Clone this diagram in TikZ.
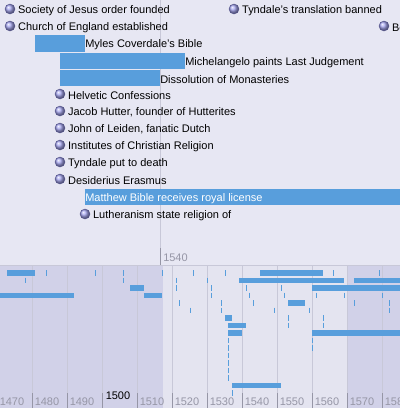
\documentclass[tikz,border=0pt]{standalone}
\usepackage{fontspec}
\setmainfont{Liberation Sans}
\usetikzlibrary{positioning}

\definecolor{bandtop}{RGB}{231,231,243}
\definecolor{bandlow}{RGB}{228,228,240}
\definecolor{bandhi}{RGB}{209,209,232}
\definecolor{gridgray}{RGB}{200,200,216}
\definecolor{labelgray}{RGB}{150,150,166}
\definecolor{barblue}{RGB}{88,158,220}
\definecolor{dotblue}{RGB}{165,165,238}
\definecolor{dotedge}{RGB}{80,80,140}

\newcommand{\evfont}{\fontsize{8.25pt}{9pt}\selectfont}

\tikzset{
	evdot/.style={circle, inner sep=0pt, minimum size=7.5pt, ball color=dotblue, draw=dotedge, line width=0.3pt},
	evlabel/.style={anchor=west, inner sep=0pt, font=\evfont, yshift=-1pt},
	evbar/.style={fill=barblue},
	ovtick/.style={draw=barblue, line width=0.75pt},
	gridline/.style={draw=gridgray, line width=0.6pt},
	yearlabel/.style={anchor=base west, inner sep=0pt, font=\evfont, text=labelgray},
}

\begin{document}
\begin{tikzpicture}[x=0.75pt,y=-0.75pt]

	\useasboundingbox (0,0) rectangle (400,408);
	\clip (0,0) rectangle (400,408);

	% detail band
	\fill[bandtop] (0,0) rectangle (400,265);
	\draw[gridgray, line width=0.5pt] (160,0) -- (160,248);
	\draw[labelgray, line width=0.75pt] (160,248) -- (160,265);
	\node[yearlabel] (top1540) at (163,261) {1540};

	% instant events
	\node[evdot] (sj) at (10,9) {};
	\node[evlabel, right=2pt of sj] (sjt) {Society of Jesus order founded};
	\node[evdot] (ce) at (10,26) {};
	\node[evlabel, right=2pt of ce] (cet) {Church of England established};
	\node[evdot] (tb) at (234,9) {};
	\node[evlabel, right=2pt of tb] (tbt) {Tyndale's translation banned};
	\node[evdot] (bo) at (384,26) {};
	\node[evlabel, right=2pt of bo] (bot) {Bo};

	\node[evdot] (hc) at (60,94) {};
	\node[evlabel, right=2pt of hc] (hct) {Helvetic Confessions};
	\node[evdot] (jh) at (60,111) {};
	\node[evlabel, right=2pt of jh] (jht) {Jacob Hutter, founder of Hutterites};
	\node[evdot] (jl) at (60,128) {};
	\node[evlabel, right=2pt of jl] (jlt) {John of Leiden, fanatic Dutch};
	\node[evdot] (ic) at (60,145) {};
	\node[evlabel, right=2pt of ic] (ict) {Institutes of Christian Religion};
	\node[evdot] (td) at (60,162) {};
	\node[evlabel, right=2pt of td] (tdt) {Tyndale put to death};
	\node[evdot] (de) at (60,179) {};
	\node[evlabel, right=2pt of de] (det) {Desiderius Erasmus};
	\node[evdot] (ls) at (85,214) {};
	\node[evlabel, right=2pt of ls] (lst) {Lutheranism state religion of};

	% duration events
	\fill[evbar] (35,35) rectangle (85,51.5);
	\node[evlabel] (mc) at (85,43.5) {Myles Coverdale's Bible};
	\fill[evbar] (60,53) rectangle (185,68.5);
	\node[evlabel] (ml) at (185,61) {Michelangelo paints Last Judgement};
	\fill[evbar] (60,70) rectangle (160,85.5);
	\node[evlabel] (dm) at (160,78) {Dissolution of Monasteries};
	\fill[evbar] (85,189) rectangle (405,205);
	\node[evlabel, text=white] (mb) at (85,197) {Matthew Bible receives royal license};

	% overview band
	\fill[bandlow] (0,265) rectangle (400,408);
	\fill[bandhi] (0,265) rectangle (163,408);
	\fill[bandhi] (347,265) rectangle (400,408);
	\draw[gridgray, line width=0.75pt] (0,265.5) -- (400,265.5);

	% decades
	\foreach \gx in {-3,32,...,382} {
		\draw[gridline] (\gx,266) -- (\gx,408);
		\draw[labelgray, line width=0.6pt] (\gx,393) -- (\gx,408);
	}
	\foreach \yr/\gx in {1470/-3,1480/32,1490/67,1510/137,1520/172,1530/207,1540/242,1550/277,1560/312,1570/347,1580/382}
		\node[yearlabel] (y\yr) at (\gx+2.5,405.5) {\yr};
	\node[yearlabel, text=black] (y1500) at (105.5,399.5) {1500};

	% overview marks
	\foreach \r/\a/\b in {0/7/35,0/260/323,1/239/344,1/354/405,2/130/144,2/312/405,3/-5/74,3/144/162,4/288/305,6/225/232,7/228/246,8/228/242,8/312/405,15/232/281}
		\fill[evbar] (\a,{270+7.5*\r}) rectangle (\b,{275.5+7.5*\r});
	\foreach \r/\x in {0/46,0/95,0/123,0/162,0/193,0/225,0/333,0/379,
		1/25,1/123,1/176,1/207,2/176,2/211,2/246,2/281,
		3/211,3/249,3/284,3/316,3/344,3/382,4/179,4/221,4/253,4/354,4/389,
		5/190,5/221,5/274,5/309,5/389,6/288,6/323,7/288,7/323,
		9/228,9/312,10/228,10/312,11/228,12/228,13/228,14/228,16/232}
		\draw[ovtick] (\x,{270+7.5*\r}) -- (\x,{275.5+7.5*\r});

\end{tikzpicture}
\end{document}
